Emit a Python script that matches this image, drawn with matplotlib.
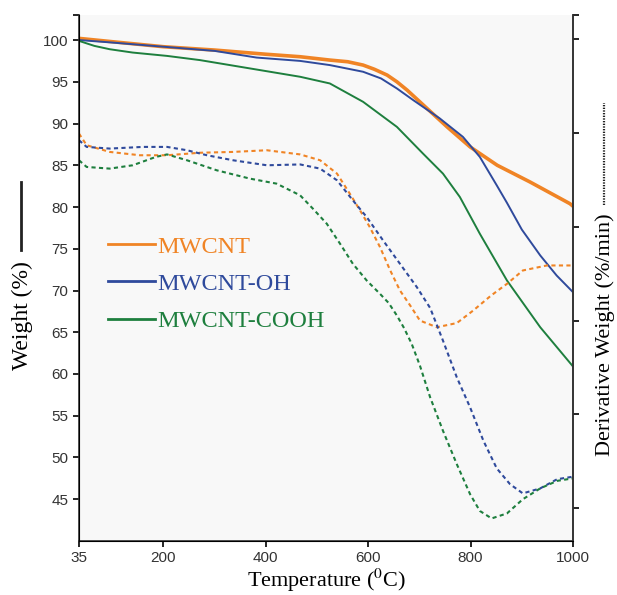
import matplotlib
matplotlib.use("Agg")
import matplotlib.pyplot as plt
from matplotlib.lines import Line2D

plt.rcParams['mathtext.fontset'] = 'stix'
plt.rcParams['font.family'] = ['Liberation Sans', 'DejaVu Sans']

# weight curves (solid)
t_mw = [35, 100, 200, 300, 400, 467, 525, 560, 590, 612, 637, 656, 676, 715, 754, 799, 852, 916,
        994, 1000]
w_mw = [100.2, 99.8, 99.2, 98.8, 98.3, 98.0, 97.6, 97.4, 97.0, 96.5, 95.8, 95.0, 94.0, 91.8, 89.6,
        87.2, 85.0, 83.0, 80.4, 80.1]

t_oh = [35, 100, 200, 300, 382, 467, 525, 590, 625, 656, 688, 740, 785, 818, 851, 871, 900, 936,
        968, 1000]
w_oh = [100.0, 99.7, 99.2, 98.7, 97.9, 97.5, 97.0, 96.2, 95.4, 94.2, 92.8, 90.6, 88.4, 86.0, 82.6,
        80.5, 77.3, 74.2, 71.8, 69.8]

t_cooh = [35, 65, 95, 140, 207, 271, 369, 467, 525, 590, 656, 707, 746, 779, 818, 871, 936, 1000]
w_cooh = [99.9, 99.3, 98.9, 98.5, 98.1, 97.6, 96.6, 95.6, 94.8, 92.6, 89.6, 86.4, 84.0, 81.2, 76.8,
          71.2, 65.6, 60.9]

# derivative curves (dotted)
t_dmw = [35, 50, 95, 154, 207, 271, 336, 402, 467, 506, 539, 564, 584, 603, 623, 643, 662, 682,
         701, 734, 773, 805, 840, 871, 902, 949, 1000]
d_mw = [88.8, 87.4, 86.6, 86.2, 86.2, 86.5, 86.6, 86.8, 86.3, 85.6, 84.0, 81.6, 79.6, 77.6, 75.2,
        72.4, 70.0, 68.2, 66.4, 65.6, 66.1, 67.6, 69.4, 70.8, 72.4, 73.0, 73.0]

t_doh = [35, 50, 95, 160, 207, 246, 285, 336, 402, 467, 506, 539, 570, 597, 629, 662, 695, 721,
         746, 773, 799, 825, 851, 877, 902, 936, 969, 1000]
d_oh = [88.0, 87.2, 87.0, 87.2, 87.2, 86.8, 86.2, 85.6, 85.0, 85.1, 84.6, 83.2, 80.8, 78.8, 76.0,
        73.2, 70.4, 67.9, 64.0, 59.6, 56.0, 52.0, 48.7, 46.8, 45.7, 46.3, 47.4, 47.7]

t_dcooh = [35, 50, 95, 140, 185, 207, 246, 304, 369, 421, 467, 492, 519, 545, 570, 597, 623, 640,
           656, 670, 685, 701, 721, 746, 773, 799, 818, 841, 871, 902, 936, 969, 1000]
d_cooh = [85.6, 84.8, 84.6, 85.0, 86.0, 86.3, 85.6, 84.4, 83.4, 82.8, 81.4, 79.8, 78.0, 75.6, 73.2,
          71.2, 69.6, 68.5, 67.0, 65.5, 63.6, 61.0, 57.2, 53.2, 49.2, 45.6, 43.6, 42.7, 43.3, 45.0,
          46.3, 47.2, 47.5]

labels = ['MWCNT', 'MWCNT-OH', 'MWCNT-COOH']
colors = ['#F08425', '#2F4A9C', '#1E7F3E']

x_ticks = [35, 200, 400, 600, 800, 1000]
y_ticks = [45, 50, 55, 60, 65, 70, 75, 80, 85, 90, 95, 100]
right_ticks = [43.9, 55.2, 66.4, 77.6, 88.9, 100.1]

fig = plt.figure(figsize=(6.17, 5.95), dpi=100)
ax = fig.add_axes([0.128, 0.0908, 0.8007, 0.884])
ax.set_facecolor('#f8f8f8')

ax.plot(t_mw, w_mw, color=colors[0], lw=2.6)
ax.plot(t_oh, w_oh, color=colors[1], lw=1.4)
ax.plot(t_cooh, w_cooh, color=colors[2], lw=1.4)

dash = (0, (2.0, 1.6))
ax.plot(t_dmw, d_mw, color=colors[0], lw=1.5, ls=dash)
ax.plot(t_doh, d_oh, color=colors[1], lw=1.5, ls=dash)
ax.plot(t_dcooh, d_cooh, color=colors[2], lw=1.5, ls=dash)

ax.set_xlim(35, 1000)
ax.set_ylim(40, 103)
ax.set_xticks(x_ticks)
ax.set_yticks(y_ticks)
ax.set_yticks([103], minor=True)
ax.tick_params(which='both', direction='out', length=4, width=1.2, labelsize=11,
               labelcolor='#333333')
ax.tick_params(axis='x', pad=3.5)
ax.spines['top'].set_visible(False)
for s in ['left', 'bottom', 'right']:
    ax.spines[s].set_linewidth(1.2)
    ax.spines[s].set_color('#333333')

ax2 = ax.twinx()
ax2.set_ylim(40, 103)
ax2.set_yticks(right_ticks)
ax2.set_yticks([103], minor=True)
ax2.set_yticklabels([])
ax2.tick_params(which='both', direction='out', length=4, width=1.2)
ax2.spines['top'].set_visible(False)
ax2.spines['right'].set_linewidth(1.2)
ax2.spines['right'].set_color('#333333')

handles = [Line2D([], [], color=c, lw=2) for c in colors]
leg = ax.legend(handles, labels, loc='upper left', bbox_to_anchor=(0.0587, 0.580), frameon=False,
                prop={'family': 'Liberation Serif', 'size': 17.5}, handlelength=1.95,
                handletextpad=0.08, labelspacing=0.62, borderpad=0, borderaxespad=0,
                labelcolor='linecolor')

serif = 'Liberation Serif'
fig.text(0.5285, 0.001, 'Temperature ($^0$C)', family=serif, fontsize=16, ha='center',
         va='bottom')
fig.text(0.036, 1 - 316 / 595, 'Weight (%)', family=serif, fontsize=17, rotation=90,
         ha='center', va='center')
fig.lines.append(Line2D([0.034, 0.034], [1 - 250 / 595, 1 - 182 / 595], color='#222222', lw=2,
                        transform=fig.transFigure))
fig.text(0.981, 1 - 335 / 595, 'Derivative Weight (%/min)', family=serif, fontsize=16, rotation=90,
         ha='center', va='center')
fig.lines.append(Line2D([0.979, 0.979], [1 - 205 / 595, 1 - 103 / 595], color='#222222', lw=1.6,
                        ls=(0, (0.6, 0.6)), transform=fig.transFigure))

fig.savefig('out.png', dpi=100)
